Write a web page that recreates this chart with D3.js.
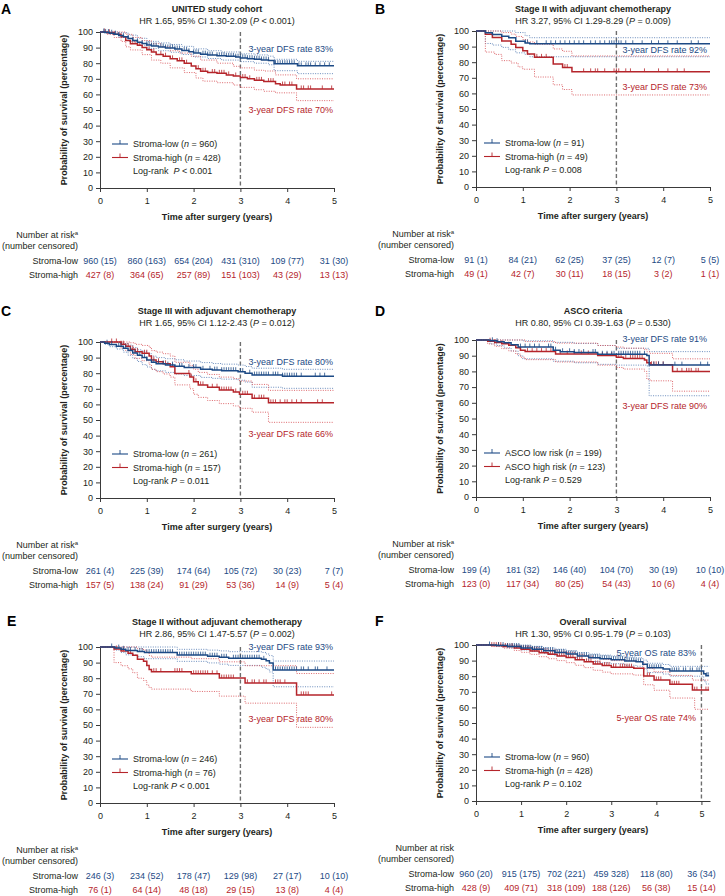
<!DOCTYPE html>
<html><head><meta charset="utf-8">
<script src="https://cdn.jsdelivr.net/npm/d3@7"></script>
<style>
body{margin:0;background:#fff;}
svg{display:block;font-family:"Liberation Sans",Arial,Helvetica,sans-serif;}
</style>
</head><body>
<svg id="chart" width="725" height="896"></svg>
<script>
// ---------------- DATA ----------------
const panelLetters = ["A","B","C","D","E","F"];
const panelTitles = ["UNITED study cohort","Stage II with adjuvant chemotherapy","Stage III with adjuvant chemotherapy","ASCO criteria","Stage II without adjuvant chemotherapy","Overall survival"];
const hrTexts = [
  ["HR 1.65, 95% CI 1.30-2.09 (","P"," < 0.001)"],
  ["HR 3.27, 95% CI 1.29-8.29 (","P"," = 0.009)"],
  ["HR 1.65, 95% CI 1.12-2.43 (","P"," = 0.012)"],
  ["HR 0.80, 95% CI 0.39-1.63 (","P"," = 0.530)"],
  ["HR 2.86, 95% CI 1.47-5.57 (","P"," = 0.002)"],
  ["HR 1.30, 95% CI 0.95-1.79 (","P"," = 0.103)"]
];
const groupLowNames = ["Stroma-low","Stroma-low","Stroma-low","ASCO low risk","Stroma-low","Stroma-low"];
const groupHighNames = ["Stroma-high","Stroma-high","Stroma-high","ASCO high risk","Stroma-high","Stroma-high"];
const groupLowN = [960,91,261,199,246,960];
const groupHighN = [428,49,157,123,76,428];
const logRankTexts = [["Log-rank  ","P"," < 0.001"],["Log-rank ","P"," = 0.008"],["Log-rank ","P"," = 0.011"],["Log-rank ","P"," = 0.529"],["Log-rank ","P"," < 0.001"],["Log-rank ","P"," = 0.102"]];
const rateLowTexts = ["3-year DFS rate 83%","3-year DFS rate 92%","3-year DFS rate 80%","3-year DFS rate 91%","3-year DFS rate 93%","5-year OS rate 83%"];
const rateHighTexts = ["3-year DFS rate 70%","3-year DFS rate 73%","3-year DFS rate 66%","3-year DFS rate 90%","3-year DFS rate 80%","5-year OS rate 74%"];
const landmarkYears = [3,3,3,3,3,5];
const followUpEnd = [5,5,5,5,5,5.17];
const xTicks = [0,1,2,3,4,5];
const yTicks = [0,10,20,30,40,50,60,70,80,90,100];
const riskRowLabels = ["Stroma-low","Stroma-high"];
const riskHasSup = [true,true,true,true,true,false];

// Number at risk (number censored) at 0..5 years
const riskLowA = ["960 (15)","860 (163)","654 (204)","431 (310)","109 (77)","31 (30)"];
const riskHighA = ["427 (8)","364 (65)","257 (89)","151 (103)","43 (29)","13 (13)"];
const riskLowB = ["91 (1)","84 (21)","62 (25)","37 (25)","12 (7)","5 (5)"];
const riskHighB = ["49 (1)","42 (7)","30 (11)","18 (15)","3 (2)","1 (1)"];
const riskLowC = ["261 (4)","225 (39)","174 (64)","105 (72)","30 (23)","7 (7)"];
const riskHighC = ["157 (5)","138 (24)","91 (29)","53 (36)","14 (9)","5 (4)"];
const riskLowD = ["199 (4)","181 (32)","146 (40)","104 (70)","30 (19)","10 (10)"];
const riskHighD = ["123 (0)","117 (34)","80 (25)","54 (43)","10 (6)","4 (4)"];
const riskLowE = ["246 (3)","234 (52)","178 (47)","129 (98)","27 (17)","10 (10)"];
const riskHighE = ["76 (1)","64 (14)","48 (18)","29 (15)","13 (8)","4 (4)"];
const riskLowF = ["960 (20)","915 (175)","702 (221)","459 328)","118 (80)","36 (34)"];
const riskHighF = ["428 (9)","409 (71)","318 (109)","188 (126)","56 (38)","15 (14)"];

// Kaplan-Meier steps [time (years), survival %]
const lowA = [[0,100],[0.1,99.6],[0.2,99.2],[0.3,98.6],[0.4,97.8],[0.5,97],[0.6,95.8],[0.7,94.6],[0.8,93.5],[0.9,92.6],[1.0,91.7],[1.1,91],[1.25,90.4],[1.4,89.8],[1.6,89.1],[1.75,88.1],[1.9,87.3],[2.0,86.6],[2.15,85.8],[2.3,85.2],[2.5,84.8],[2.7,84.4],[2.9,83.9],[3.0,83.4],[3.15,82.9],[3.3,82.5],[3.45,82.1],[3.6,81.7],[3.72,79.7],[4.22,78.3]];
const highA = [[0,100],[0.15,99.5],[0.3,98.5],[0.45,97],[0.55,94.5],[0.65,92.5],[0.8,91.5],[0.9,90],[1.0,88.7],[1.1,87.2],[1.2,85.5],[1.35,84.5],[1.5,82.8],[1.65,81.5],[1.8,80],[1.95,78.2],[2.05,76.5],[2.15,74.8],[2.3,74],[2.5,73.5],[2.7,72.5],[2.85,71.8],[3.0,70.8],[3.15,70],[3.3,69],[3.5,68.2],[3.75,66.8],[3.85,66],[4.2,63.5]];
const lowCIupA = [[0,100],[0.4,99.6],[0.6,98],[0.8,96],[1.0,94],[1.25,93],[1.5,92],[1.75,90.8],[2.0,89.2],[2.3,88],[2.6,87.2],[3.0,86],[3.3,85.3],[3.6,84.5],[3.72,82.5],[4.22,81.2]];
const lowCIloA = [[0,100],[0.2,98.8],[0.4,96.5],[0.6,94],[0.8,91.5],[1.0,89.5],[1.25,88],[1.5,87],[1.75,85.6],[2.0,84],[2.3,83],[2.6,82],[3.0,81],[3.3,80],[3.6,79],[3.72,75.2],[4.22,73.3]];
const highCIupA = [[0,100],[0.45,100],[0.55,98.5],[0.7,96.5],[0.9,94.5],[1.1,92.5],[1.3,90.5],[1.5,88],[1.7,86.5],[1.95,84.5],[2.15,82],[2.5,80],[2.85,78],[3.0,77],[3.3,75.5],[3.5,75],[3.75,72.5],[4.2,70]];
const highCIloA = [[0,100],[0.15,98.5],[0.3,96.5],[0.45,94],[0.55,90.5],[0.65,88.5],[0.9,85.5],[1.1,82],[1.3,80],[1.5,77],[1.8,74],[2.05,70.5],[2.2,68.5],[2.5,67.5],[2.85,66],[3.0,64.5],[3.3,63],[3.5,62],[3.75,61],[4.2,56]];
const censLowA = [0.08,0.12,0.18,0.25,0.33,0.4,0.5,0.6,0.7,0.8,0.9,1.0,1.05,1.1,1.15,1.2,1.3,1.35,1.4,1.45,1.5,1.55,1.6,1.65,1.7,1.8,1.85,1.9,2.0,2.05,2.1,2.2,2.25,2.3,2.35,2.4,2.5,2.55,2.6,2.65,2.7,2.75,2.8,2.85,2.9,2.95,3.0,3.05,3.1,3.15,3.2,3.25,3.3,3.35,3.4,3.45,3.5,3.55,3.6,3.75,3.8,3.85,3.9,3.95,4.0,4.05,4.1,4.15,4.25,4.3,4.4,4.45,4.5,4.6,4.7,4.8,4.9];
const censHighA = [0.1,0.2,0.3,0.7,0.75,0.85,1.05,1.15,1.3,1.4,1.55,1.7,1.75,1.85,2.1,2.2,2.25,2.4,2.45,2.55,2.6,2.65,2.75,2.9,3.05,3.1,3.2,3.35,3.4,3.45,3.6,3.65,3.7,3.9,3.95,4.05,4.1,4.3,4.35,4.45,4.5,4.75,4.95];

const lowB = [[0,100],[0.2,98.9],[0.35,97.8],[0.55,96.7],[0.7,95.6],[0.85,93.4],[1.05,92.3],[1.15,91.8]];
const highB = [[0,100],[0.2,97.9],[0.35,95.8],[0.55,93.6],[0.75,91.5],[0.85,89.4],[1.0,87.3],[1.1,85.2],[1.25,83.1],[1.65,78.9],[1.85,76.6],[2.05,73.8]];
const lowCIupB = [[0,100],[0.7,100],[0.85,99],[1.05,97],[1.15,95.7]];
const lowCIloB = [[0,100],[0.2,92],[0.35,91],[0.55,89.5],[0.7,88],[0.85,86],[1.05,85],[1.15,83.5]];
const highCIupB = [[0,100],[0.45,100],[0.55,99],[0.75,98],[0.85,96.5],[1.0,94.5],[1.1,93],[1.25,91.5],[1.65,88.5],[1.85,87],[2.05,84]];
const highCIloB = [[0,100],[0.2,86.5],[0.4,85],[0.55,81],[0.75,79.5],[0.9,77],[1.0,75.5],[1.25,70.5],[1.65,65.5],[1.85,62.5],[2.05,59]];
const censLowB = [1.05,1.1,1.3,1.5,1.6,1.7,1.8,1.9,2.0,2.1,2.2,2.3,2.45,2.55,2.65,2.75,2.85,2.9,2.95,3.0,3.05,3.1,3.2,3.35,3.55,3.75,3.9,4.1,4.3,4.6,4.75];
const censHighB = [1.3,1.4,1.5,1.9,1.95,2.3,2.45,2.55,2.6,2.75,2.95,3.0,3.05,3.2,3.3,3.6,3.9,4.1,4.3,4.45];

const lowC = [[0,100],[0.1,99.2],[0.2,98.4],[0.35,97.3],[0.5,96],[0.6,94.5],[0.7,93],[0.8,91.5],[0.9,90],[1.0,88.5],[1.1,87],[1.2,86],[1.4,85.2],[1.6,84.4],[1.8,83.6],[2.15,82.5],[2.4,82],[2.6,81.6],[2.95,81],[3.1,80],[3.25,78.8],[3.9,78.1]];
const highC = [[0,100],[0.45,98.6],[0.55,97.2],[0.65,95.4],[0.75,93.8],[0.9,92.8],[1.05,91],[1.1,88.5],[1.2,87.3],[1.35,86],[1.5,84.2],[1.6,79.8],[1.92,77.5],[2.0,74.5],[2.1,72.5],[2.3,71],[2.55,69.2],[2.85,68],[2.98,66.5],[3.25,64],[3.6,61]];
const lowCIupC = [[0,100],[0.35,99.8],[0.5,99],[0.6,98],[0.7,96.5],[0.8,95],[0.9,94],[1.0,92.5],[1.1,91],[1.2,90],[1.4,89.3],[1.6,88.6],[1.8,87.8],[2.15,86.8],[2.4,86.2],[2.6,85.8],[2.95,85.2],[3.1,84.3],[3.25,83.2],[3.9,82.5]];
const lowCIloC = [[0,100],[0.1,98.5],[0.2,97],[0.35,95.5],[0.5,93.5],[0.6,91.5],[0.7,89.5],[0.8,87.5],[0.9,85.5],[1.0,84],[1.1,82.5],[1.2,81.5],[1.4,80.5],[1.6,79.5],[1.8,78.5],[2.15,77.3],[2.4,76.7],[2.6,76.2],[2.95,75.5],[3.1,74.3],[3.25,71],[3.9,70.3]];
const highCIupC = [[0,100],[0.55,100],[0.65,99.5],[0.75,98.5],[0.9,97.8],[1.05,96.5],[1.1,94.5],[1.2,93.5],[1.35,92.5],[1.5,91],[1.6,87],[1.92,85],[2.0,82.5],[2.1,80.5],[2.3,79.2],[2.55,77.5],[2.85,76.5],[2.98,75],[3.25,72.8],[3.6,69]];
const highCIloC = [[0,100],[0.45,96],[0.55,94.5],[0.65,92],[0.75,89.5],[0.9,88],[1.05,85.5],[1.1,82.5],[1.2,81],[1.35,79.5],[1.5,77.5],[1.6,72.5],[1.92,70],[2.0,66.5],[2.1,64.5],[2.3,62.5],[2.55,60.5],[2.85,59],[2.98,57.5],[3.25,55],[3.6,48.5]];
const censLowC = [0.15,0.25,0.4,0.45,0.55,0.65,0.75,0.85,0.95,1.0,1.15,1.25,1.35,1.45,1.55,1.7,1.75,1.9,2.0,2.05,2.2,2.35,2.45,2.5,2.6,2.65,2.7,2.75,2.8,2.85,2.9,3.0,3.05,3.2,3.3,3.35,3.4,3.45,3.5,3.55,3.6,3.7,3.75,3.8,3.9,3.95,4.0,4.05,4.1,4.15,4.2,4.3,4.6,4.7,4.8];
const censHighC = [0.25,0.35,0.45,0.5,0.6,0.7,0.8,0.95,1.0,1.15,1.25,1.4,1.55,1.9,1.95,2.05,2.15,2.2,2.4,2.5,2.6,2.65,2.7,2.75,2.8,2.9,3.05,3.1,3.15,3.3,3.4,3.45,3.5,3.65,3.7,3.75,3.85,3.95,4.0,4.1,4.2,4.3,4.65,4.75];

const lowD = [[0,100],[0.3,99.5],[0.45,98.9],[0.6,98.3],[0.75,97],[0.9,95.5],[1.65,93.5],[1.8,92.5],[2.1,92],[2.6,90.9],[3.65,90.1],[3.7,84]];
const highD = [[0,100],[0.25,99.2],[0.4,98.4],[0.55,97.6],[0.7,96.7],[0.85,95.1],[0.95,93.5],[1.05,92.6],[1.7,91.1],[2.6,90.1],[3.0,89],[3.15,88.2],[3.6,87.2],[3.65,85.5],[3.72,84.2],[4.2,80]];
const lowCIupD = [[0,100],[1.0,99.5],[1.65,98.5],[2.1,97.8],[2.6,96.5],[3.0,94.7],[3.7,92.6]];
const lowCIloD = [[0,100],[0.3,97.5],[0.45,96.5],[0.6,95],[0.75,93],[0.9,90],[1.0,88],[1.65,86.5],[2.1,85.5],[2.6,84.5],[3.0,84],[3.65,83.5],[3.7,64.5]];
const highCIupD = [[0,100],[1.05,99],[1.7,98],[2.6,96.5],[3.0,95.5],[3.15,94.8],[3.6,94],[3.65,92.5],[3.72,91.5],[4.2,88]];
const highCIloD = [[0,100],[0.25,97.5],[0.4,96],[0.55,94.5],[0.7,93],[0.85,91],[0.95,89],[1.05,87.5],[1.7,86],[2.6,84],[3.0,82.5],[3.15,81.5],[3.6,80],[3.65,75],[3.72,74],[4.2,67.4]];
const censLowD = [0.35,0.45,0.95,1.05,1.15,1.25,1.35,1.55,1.6,1.7,1.85,2.0,2.1,2.2,2.3,2.5,2.55,2.7,2.8,2.9,2.95,3.05,3.1,3.15,3.2,3.25,3.3,3.35,3.4,3.45,3.5,3.6,3.8,3.9,4.0,4.25,4.4,4.8,4.95];
const censHighD = [0.3,0.4,0.55,0.7,1.1,1.2,1.3,1.4,1.5,1.6,1.8,1.95,2.1,2.25,2.4,2.7,2.8,2.9,3.05,3.1,3.2,3.3,3.35,3.4,3.45,3.5,3.55,3.75,3.8,3.85,3.9,4.0,4.3,4.4,4.5,4.55,4.6,4.7,4.75];

const lowE = [[0,100],[0.32,99.3],[0.45,98.5],[0.55,97.8],[0.8,97.1],[0.95,96.4],[1.65,94.8],[2.3,94.1],[2.55,93.4],[2.75,92.8],[3.45,92.1],[3.55,91.2],[3.62,89.8],[3.7,85.3]];
const highE = [[0,100],[0.3,98.7],[0.45,97.4],[0.6,96],[0.7,94.7],[0.8,92.1],[0.93,90.8],[1.0,88.2],[1.05,85.5],[1.1,84.2],[1.95,82.8],[2.55,80.1],[3.1,77],[4.2,69.3]];
const lowCIupE = [[0,100],[0.95,100],[1.65,98.5],[2.3,98],[2.55,97.5],[2.75,97],[3.45,96.5],[3.55,95.5],[3.62,94.5],[3.7,91]];
const lowCIloE = [[0,100],[0.32,98],[0.45,96.5],[0.55,95],[0.8,93.8],[0.95,92.5],[1.65,90.8],[2.3,89.8],[2.55,89],[2.75,88.2],[3.45,87],[3.55,85.8],[3.62,84],[3.7,74.5]];
const highCIupE = [[0,100],[0.7,100],[0.8,99],[0.93,98],[1.0,96.5],[1.05,94.5],[1.1,93.5],[1.95,92.5],[2.55,90.5],[3.1,88],[4.2,83]];
const highCIloE = [[0,100],[0.3,90],[0.45,88],[0.6,86],[0.7,83.5],[0.8,80],[0.93,78.5],[1.0,75.5],[1.05,74],[1.1,73],[1.95,71.5],[2.55,68.5],[3.1,64],[4.2,48.5]];
const censLowE = [0.25,0.4,0.5,0.6,0.65,0.75,0.85,0.9,1.0,1.05,1.1,1.15,1.2,1.25,1.3,1.35,1.4,1.45,1.5,1.55,1.7,1.75,1.8,1.85,1.9,1.95,2.0,2.05,2.1,2.15,2.2,2.25,2.35,2.4,2.45,2.5,2.6,2.65,2.7,2.85,2.9,2.95,3.0,3.05,3.1,3.15,3.2,3.25,3.3,3.35,3.4,3.5,3.75,3.8,3.85,3.9,3.95,4.0,4.05,4.1,4.15,4.2,4.3,4.35,4.45,4.6,4.65,4.85];
const censHighE = [0.35,0.5,0.65,1.15,1.2,1.3,1.6,1.65,1.7,1.75,2.0,2.05,2.1,2.15,2.2,2.25,2.3,2.4,2.5,2.6,2.65,2.7,2.75,2.8,2.85,3.15,3.25,3.3,3.4,3.5,3.55,3.75,3.8,3.85,3.95,4.3,4.35,4.4,4.45,4.95];

const lowF = [[0,100],[0.45,99.6],[0.7,99],[1.0,98],[1.25,97.2],[1.5,96.3],[1.75,95.2],[2.0,94.2],[2.25,93],[2.5,91.9],[2.75,91.2],[3.0,90.6],[3.3,89.8],[3.55,89.2],[3.7,87.6],[3.8,85.4],[4.15,84.6],[4.3,83.4],[5.05,81.5],[5.1,80.3]];
const highF = [[0,100],[0.35,99.6],[0.6,99],[0.85,98],[1.0,97.2],[1.2,96.2],[1.4,95],[1.6,94],[1.8,93],[2.0,92],[2.2,90.6],[2.4,89.2],[2.6,87.8],[2.8,86.8],[3.0,85.8],[3.5,85.1],[3.72,80.2],[3.95,77.6],[4.3,74.8],[4.8,71.1]];
const lowCIupF = [[0,100],[1.0,99.5],[1.25,99],[1.5,98.2],[1.75,97.3],[2.0,96.3],[2.25,95.2],[2.5,94.2],[2.75,93.5],[3.0,93],[3.3,92.3],[3.55,91.8],[3.7,90.3],[3.8,88.3],[4.15,87.5],[4.3,86.3]];
const lowCIloF = [[0,100],[0.45,99.2],[0.7,98.2],[1.0,96.8],[1.25,95.8],[1.5,94.5],[1.75,93.2],[2.0,92],[2.25,90.6],[2.5,89.4],[2.75,88.6],[3.0,88],[3.3,87],[3.55,86.4],[3.7,84.6],[3.8,82.3],[4.15,81.4],[4.3,80],[5.05,77],[5.1,75]];
const highCIupF = [[0,100],[0.85,99.8],[1.0,99.3],[1.2,98.5],[1.4,97.6],[1.6,96.8],[1.8,96],[2.0,95.2],[2.2,94],[2.4,92.8],[2.6,91.6],[2.8,90.8],[3.0,90],[3.5,89.4],[3.72,85],[3.95,82.8],[4.3,80.5],[4.8,77.5]];
const highCIloF = [[0,100],[0.35,99],[0.6,98],[0.85,96.5],[1.0,95.3],[1.2,94],[1.4,92.5],[1.6,91.2],[1.8,90],[2.0,88.7],[2.2,87],[2.4,85.5],[2.6,83.8],[2.8,82.6],[3.0,81.5],[3.5,80.7],[3.72,74.5],[3.95,71],[4.3,66],[4.85,58.8]];
const censLowF = [0.3,0.5,0.6,0.7,0.75,0.8,0.85,0.9,0.95,1.0,1.05,1.1,1.15,1.2,1.25,1.3,1.35,1.4,1.45,1.5,1.55,1.6,1.65,1.7,1.75,1.8,1.85,1.9,1.95,2.0,2.05,2.1,2.15,2.2,2.25,2.3,2.35,2.4,2.45,2.5,2.55,2.6,2.65,2.7,2.75,2.8,2.85,2.9,2.95,3.0,3.05,3.1,3.15,3.2,3.25,3.3,3.35,3.4,3.45,3.5,3.55,3.6,3.65,3.85,3.9,3.95,4.0,4.05,4.1,4.35,4.4,4.45,4.5,4.6,4.65,4.75,4.8,4.9,4.95,5.0,5.12,5.15];
const censHighF = [0.35,0.4,0.45,0.5,0.55,0.65,0.7,0.8,0.9,1.05,1.1,1.15,1.25,1.3,1.35,1.45,1.5,1.55,1.65,1.7,1.75,1.85,1.9,1.95,2.05,2.1,2.15,2.25,2.3,2.35,2.45,2.5,2.55,2.65,2.7,2.75,2.85,2.9,2.95,3.05,3.1,3.2,3.25,3.3,3.35,3.4,3.45,3.8,3.85,4.0,4.05,4.1,4.35,4.4,4.45,4.5,4.85,4.9,5.0,5.1,5.15];

// ---------------- LAYOUT ----------------
const layout = [
  {x0:100,x1:334,xMax:5,yTop:32,yBot:188,letterX:1,letterY:14,titleY:12,legX:12,rateX:333,rateLowY:51.7,rateHighY:113.3},
  {x0:476,x1:710,xMax:5,yTop:31,yBot:187,letterX:375,letterY:14,titleY:12,legX:8,rateX:707,rateLowY:53.3,rateHighY:90},
  {x0:100,x1:334,xMax:5,yTop:342,yBot:498,letterX:1,letterY:316,titleY:314,legX:12,rateX:333,rateLowY:365,rateHighY:436.7},
  {x0:476,x1:710,xMax:5,yTop:340,yBot:497,letterX:375,letterY:316,titleY:314,legX:8,rateX:707,rateLowY:341.7,rateHighY:409},
  {x0:100,x1:334,xMax:5,yTop:647,yBot:803,letterX:7,letterY:626,titleY:625,legX:12,rateX:333,rateLowY:650,rateHighY:721.7},
  {x0:476,x1:710,xMax:5.19,yTop:645,yBot:801,letterX:375,letterY:626,titleY:625,legX:8,rateX:696,rateLowY:655.7,rateHighY:720.7}
];

const series = [
  {low:lowA,high:highA,lu:lowCIupA,ll:lowCIloA,hu:highCIupA,hl:highCIloA,cl:censLowA,ch:censHighA,rl:riskLowA,rh:riskHighA},
  {low:lowB,high:highB,lu:lowCIupB,ll:lowCIloB,hu:highCIupB,hl:highCIloB,cl:censLowB,ch:censHighB,rl:riskLowB,rh:riskHighB},
  {low:lowC,high:highC,lu:lowCIupC,ll:lowCIloC,hu:highCIupC,hl:highCIloC,cl:censLowC,ch:censHighC,rl:riskLowC,rh:riskHighC},
  {low:lowD,high:highD,lu:lowCIupD,ll:lowCIloD,hu:highCIupD,hl:highCIloD,cl:censLowD,ch:censHighD,rl:riskLowD,rh:riskHighD},
  {low:lowE,high:highE,lu:lowCIupE,ll:lowCIloE,hu:highCIupE,hl:highCIloE,cl:censLowE,ch:censHighE,rl:riskLowE,rh:riskHighE},
  {low:lowF,high:highF,lu:lowCIupF,ll:lowCIloF,hu:highCIupF,hl:highCIloF,cl:censLowF,ch:censHighF,rl:riskLowF,rh:riskHighF}
];

const BLUE = "#1d4a85", RED = "#b5252b", BLUE_CI = "#5a80b5", RED_CI = "#d9575c";
const TXT = "#231f20", AXC = "#3a3a3a";
const FS = 9;

const svg = d3.select("#chart");

function survAt(steps, t){
  let v = steps[0][1];
  for (const s of steps){ if (s[0] <= t) v = s[1]; else break; }
  return v;
}

layout.forEach((L, i) => {
  const S = series[i];
  const g = svg.append("g");
  const x = d3.scaleLinear().domain([0, L.xMax]).range([L.x0, L.x1]);
  const y = d3.scaleLinear().domain([0, 100]).range([L.yBot, L.yTop]);
  const endT = followUpEnd[i];

  // letter, title, HR
  g.append("text").attr("x", L.letterX).attr("y", L.letterY).attr("font-size", 14).attr("font-weight", "bold").attr("fill", "#000").text(panelLetters[i]);
  const cx = (L.x0 + L.x1) / 2;
  g.append("text").attr("x", cx).attr("y", L.titleY).attr("text-anchor", "middle").attr("font-size", FS).attr("font-weight", "bold").attr("fill", TXT).text(panelTitles[i]);
  const hr = g.append("text").attr("x", cx).attr("y", L.titleY + 11.5).attr("text-anchor", "middle").attr("font-size", FS).attr("fill", TXT);
  hr.append("tspan").text(hrTexts[i][0]);
  hr.append("tspan").attr("font-style", "italic").text(hrTexts[i][1]);
  hr.append("tspan").text(hrTexts[i][2]);

  // axes
  const ya = g.append("g").attr("transform", `translate(${L.x0},0)`)
    .call(d3.axisLeft(y).tickValues(yTicks).tickSize(4).tickPadding(3).tickSizeOuter(0));
  const xa = g.append("g").attr("transform", `translate(0,${L.yBot})`)
    .call(d3.axisBottom(x).tickValues(xTicks).tickFormat(d3.format("d")).tickSize(4).tickPadding(6).tickSizeOuter(0));
  [ya, xa].forEach(a => {
    a.selectAll("path,line").attr("stroke", AXC).attr("stroke-width", 1);
    a.selectAll("text").attr("font-size", FS).attr("fill", TXT);
    a.attr("font-family", null);
  });
  g.append("text").attr("transform", `translate(${L.x0 - 33},${(L.yTop + L.yBot) / 2}) rotate(-90)`)
    .attr("text-anchor", "middle").attr("font-size", FS).attr("font-weight", "bold").attr("fill", TXT)
    .text("Probability of survival (percentage)");
  g.append("text").attr("x", cx).attr("y", L.yBot + 32).attr("text-anchor", "middle").attr("font-size", FS).attr("font-weight", "bold").attr("fill", TXT)
    .text("Time after surgery (years)");

  // landmark dashed line
  g.append("line").attr("x1", x(landmarkYears[i])).attr("x2", x(landmarkYears[i]))
    .attr("y1", y(100)).attr("y2", y(0)).attr("stroke", "#6e6e6e").attr("stroke-width", 1.4).attr("stroke-dasharray", "4,2.5");

  const line = d3.line().x(d => x(d[0])).y(d => y(d[1])).curve(d3.curveStepAfter);
  const ext = (steps) => steps.concat([[endT, steps[steps.length - 1][1]]]);

  // CI
  [[S.lu, BLUE_CI], [S.ll, BLUE_CI], [S.hu, RED_CI], [S.hl, RED_CI]].forEach(([st, c]) => {
    g.append("path").datum(ext(st)).attr("d", line).attr("fill", "none").attr("stroke", c)
      .attr("stroke-width", 0.9).attr("stroke-dasharray", "1,1.4");
  });
  // curves (high first so low on top)
  [[S.high, S.ch, RED], [S.low, S.cl, BLUE]].forEach(([st, cens, c]) => {
    g.append("path").datum(ext(st)).attr("d", line).attr("fill", "none").attr("stroke", c).attr("stroke-width", 1.5);
    g.selectAll(null).data(cens).enter().append("line")
      .attr("x1", d => x(d)).attr("x2", d => x(d))
      .attr("y1", d => y(survAt(st, d))).attr("y2", d => y(survAt(st, d)) - 3.5)
      .attr("stroke", c).attr("stroke-width", 0.8);
  });

  // rate labels
  g.append("text").attr("x", L.rateX).attr("y", L.rateLowY).attr("text-anchor", "end").attr("font-size", FS).attr("fill", BLUE).text(rateLowTexts[i]);
  g.append("text").attr("x", L.rateX).attr("y", L.rateHighY).attr("text-anchor", "end").attr("font-size", FS).attr("fill", RED).text(rateHighTexts[i]);

  // legend
  const lx = L.x0 + L.legX;
  const legRows = [[groupLowNames[i], groupLowN[i], BLUE, L.yBot - 44], [groupHighNames[i], groupHighN[i], RED, L.yBot - 30.5]];
  legRows.forEach(([nm, n, c, ly]) => {
    g.append("line").attr("x1", lx).attr("x2", lx + 16).attr("y1", ly).attr("y2", ly).attr("stroke", c).attr("stroke-width", 1.1);
    g.append("line").attr("x1", lx + 8).attr("x2", lx + 8).attr("y1", ly).attr("y2", ly - 4).attr("stroke", c).attr("stroke-width", 0.9);
    const t = g.append("text").attr("x", lx + 21).attr("y", ly + 3.3).attr("font-size", FS).attr("fill", TXT);
    t.append("tspan").text(nm + " (");
    t.append("tspan").attr("font-style", "italic").text("n");
    t.append("tspan").text(" = " + n + ")");
  });
  const lr = g.append("text").attr("x", lx + 21).attr("y", L.yBot - 14).attr("font-size", FS).attr("fill", TXT);
  lr.append("tspan").style("white-space", "pre").text(logRankTexts[i][0]);
  lr.append("tspan").attr("font-style", "italic").text(logRankTexts[i][1]);
  lr.append("tspan").text(logRankTexts[i][2]);

  // risk table
  const labX = L.x0 - 22;
  const nr = g.append("text").attr("x", labX).attr("y", L.yBot + 50).attr("text-anchor", "end").attr("font-size", FS).attr("fill", TXT);
  nr.append("tspan").text("Number at risk");
  if (riskHasSup[i]) nr.append("tspan").attr("font-size", 6).attr("dy", -3.5).text("a");
  g.append("text").attr("x", labX).attr("y", L.yBot + 61).attr("text-anchor", "end").attr("font-size", FS).attr("fill", TXT).text("(number censored)");
  [[riskRowLabels[0], S.rl, BLUE, L.yBot + 75.5], [riskRowLabels[1], S.rh, RED, L.yBot + 90]].forEach(([lab, vals, c, ry]) => {
    g.append("text").attr("x", labX).attr("y", ry).attr("text-anchor", "end").attr("font-size", FS).attr("fill", TXT).text(lab);
    g.selectAll(null).data(vals).enter().append("text")
      .attr("x", (d, k) => x(xTicks[k])).attr("y", ry).attr("text-anchor", "middle")
      .attr("font-size", FS).attr("fill", c).text(d => d);
  });
});
</script>
</body></html>
